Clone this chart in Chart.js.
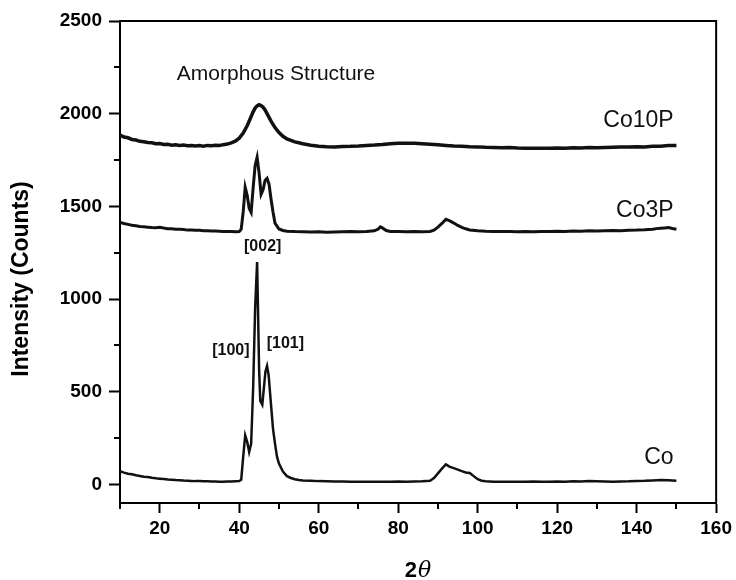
<!DOCTYPE html>
<html>
<head>
<meta charset="utf-8">
<script src="https://cdn.jsdelivr.net/npm/chart.js@4"></script>
<style>
  html, body { margin: 0; padding: 0; background: #fff; }
  #wrap { width: 736px; height: 580px; position: relative; }
</style>
</head>
<body>
<div id="wrap"><canvas id="xrdChart"></canvas></div>
<script>
// 2-theta positions and counts
const co10pX = [
    10, 11, 12, 13, 14, 15, 16, 17, 18, 19,
    20, 21, 22, 23, 24, 25, 26, 27, 28, 29,
    30, 31, 32, 33, 34, 35, 36, 37, 38, 39,
    40, 41, 42, 43, 43.5, 44, 44.5, 45, 45.5, 46,
    46.5, 47, 48, 49, 50, 51, 52, 53, 54, 55,
    56, 58, 60, 62, 64, 66, 68, 70, 72, 74,
    76, 78, 80, 82, 84, 86, 88, 90, 92, 94,
    96, 98, 100, 102, 104, 106, 108, 110, 112, 114,
    116, 118, 120, 122, 124, 126, 128, 130, 132, 134,
    136, 138, 140, 142, 144, 146, 148, 150
];
const co10pY = [
    1885, 1874, 1870, 1861, 1858, 1851, 1849, 1845, 1843, 1838,
    1839, 1834, 1835, 1830, 1832, 1828, 1831, 1827, 1829, 1826,
    1828, 1825, 1829, 1827, 1830, 1829, 1833, 1836, 1843, 1852,
    1868, 1895, 1935, 1985, 2010, 2030, 2042, 2048, 2044, 2035,
    2020, 2000, 1960, 1925, 1898, 1878, 1864, 1856, 1848, 1843,
    1838, 1830, 1825, 1822, 1821, 1823, 1824, 1826, 1829, 1831,
    1834, 1838, 1840, 1841, 1840, 1838, 1835, 1832, 1829, 1826,
    1824, 1822, 1821, 1819, 1818, 1816, 1817, 1815, 1814, 1813,
    1814, 1813, 1815, 1814, 1816, 1815, 1817, 1816, 1818, 1819,
    1820, 1821, 1822, 1821, 1824, 1825, 1828, 1828
];

const co3pX = [
    10, 11, 12, 13, 14, 15, 16, 17, 18, 19,
    20, 21, 22, 23, 24, 25, 26, 27, 28, 29,
    30, 31, 32, 33, 34, 35, 36, 37, 38, 39,
    40, 40.5, 41, 41.5, 42, 42.5, 43, 43.5, 44, 44.5,
    45, 45.5, 46, 46.5, 47, 47.5, 48, 48.5, 49, 50,
    51, 52, 54, 56, 58, 60, 62, 64, 66, 68,
    70, 72, 74, 75, 75.5, 76, 77, 78, 80, 82,
    84, 86, 88, 89, 90, 91, 92, 93, 94, 95,
    96, 97, 98, 100, 102, 104, 106, 108, 110, 112,
    114, 116, 118, 120, 122, 124, 126, 128, 130, 132,
    134, 136, 138, 140, 142, 144, 145, 146, 147, 148,
    149, 150
];
const co3pY = [
    1414, 1408, 1403, 1398, 1396, 1392, 1390, 1388, 1386, 1385,
    1387, 1383, 1380, 1379, 1377, 1376, 1375, 1372, 1373, 1371,
    1371, 1369, 1368, 1367, 1367, 1366, 1365, 1364, 1364, 1363,
    1364, 1377, 1470, 1603, 1560, 1490, 1468, 1600, 1720, 1765,
    1680, 1565, 1590, 1640, 1651, 1620, 1540, 1470, 1410, 1378,
    1370, 1366, 1364, 1363, 1362, 1363, 1361, 1362, 1363, 1364,
    1363, 1365, 1368, 1378, 1390, 1384, 1370, 1365, 1364, 1363,
    1364, 1363, 1365, 1372, 1388, 1408, 1430, 1422, 1410, 1397,
    1387, 1379, 1373, 1368, 1366, 1365, 1364, 1365, 1363, 1364,
    1363, 1365, 1364, 1366, 1365, 1367, 1366, 1368, 1367, 1369,
    1370, 1369, 1371, 1372, 1374, 1377, 1380, 1382, 1384, 1386,
    1381, 1377
];

const coX = [
    10, 11, 12, 13, 14, 15, 16, 17, 18, 19,
    20, 21, 22, 23, 24, 25, 26, 27, 28, 29,
    30, 31, 32, 33, 34, 35, 36, 37, 38, 39,
    40, 40.5, 41, 41.5, 42, 42.5, 43, 43.5, 44, 44.5,
    45, 45.3, 45.8, 46.2, 46.6, 47, 47.4, 48, 48.5, 49,
    49.5, 50, 51, 52, 53, 54, 55, 56, 58, 60,
    62, 64, 66, 68, 70, 72, 74, 76, 78, 80,
    82, 84, 86, 88, 89, 90, 91, 92, 93, 94,
    95, 96, 97, 98, 99, 100, 101, 102, 104, 106,
    108, 110, 112, 114, 116, 118, 120, 122, 124, 126,
    128, 130, 132, 134, 136, 138, 140, 142, 144, 146,
    148, 150
];
const coY = [
    72, 64, 58, 55, 50, 46, 42, 40, 36, 33,
    31, 29, 27, 26, 24, 23, 21, 20, 19, 18,
    18, 17, 17, 16, 16, 15, 15, 16, 16, 17,
    18, 25, 150, 265, 230, 175, 220, 520, 950, 1200,
    620, 450, 430, 520, 610, 640, 590, 430, 300, 220,
    150, 113, 70, 45, 35, 28, 24, 22, 20, 18,
    17, 16, 16, 15, 15, 14, 15, 14, 15, 16,
    15, 16, 17, 20, 35, 60, 85, 108, 95, 88,
    80, 72, 65, 62, 45, 28, 20, 17, 15, 14,
    15, 14, 15, 16, 15, 14, 16, 15, 17, 16,
    18, 17, 16, 15, 16, 17, 19, 20, 22, 24,
    23, 20
];

const xTicks = [10, 20, 30, 40, 50, 60, 70, 80, 90, 100, 110, 120, 130, 140, 150, 160];
const yTicks = [0, 250, 500, 750, 1000, 1250, 1500, 1750, 2000, 2250, 2500];

// text placed in data coordinates: [text, x, y, align, font]
const seriesLabels = [
    ['Co10P', 149.3, 1962, 'right', '23px Arial, "Liberation Sans", sans-serif'],
    ['Co3P', 149.3, 1478, 'right', '23px Arial, "Liberation Sans", sans-serif'],
    ['Co', 149.3, 143, 'right', '23px Arial, "Liberation Sans", sans-serif'],
    ['Amorphous Structure', 24.3, 2211, 'left', '21px Arial, "Liberation Sans", sans-serif'],
    ['[002]', 45.9, 1282, 'center', 'bold 16px Arial, "Liberation Sans", sans-serif'],
    ['[100]', 37.9, 724, 'center', 'bold 16px Arial, "Liberation Sans", sans-serif'],
    ['[101]', 51.6, 761, 'center', 'bold 16px Arial, "Liberation Sans", sans-serif']
];

const toPoints = (xs, ys) => xs.map((x, i) => ({ x: x, y: ys[i] }));
const isMajorX = v => v % 20 === 0;
const isMajorY = v => v % 500 === 0;

const frameAndText = {
    id: 'frameAndText',
    afterDraw(chart) {
        const ctx = chart.ctx;
        const a = chart.chartArea;
        const xs = chart.scales.x;
        const ys = chart.scales.y;
        ctx.save();
        ctx.strokeStyle = '#000';
        ctx.lineWidth = 2;

        // top and right edges of the box
        ctx.beginPath();
        ctx.moveTo(a.left, a.top);
        ctx.lineTo(a.right, a.top);
        ctx.lineTo(a.right, a.bottom);
        ctx.stroke();

        // short minor ticks
        ctx.beginPath();
        xTicks.filter(v => !isMajorX(v)).forEach(v => {
            const px = Math.round(xs.getPixelForValue(v));
            ctx.moveTo(px, a.bottom);
            ctx.lineTo(px, a.bottom + 6);
        });
        yTicks.filter(v => !isMajorY(v)).forEach(v => {
            const py = Math.round(ys.getPixelForValue(v));
            ctx.moveTo(a.left, py);
            ctx.lineTo(a.left - 6, py);
        });
        ctx.stroke();

        // annotations
        ctx.fillStyle = '#111';
        ctx.textBaseline = 'middle';
        seriesLabels.forEach(([txt, x, y, align, font]) => {
            ctx.font = font;
            ctx.textAlign = align;
            ctx.fillText(txt, xs.getPixelForValue(x), ys.getPixelForValue(y));
        });

        // axis titles
        ctx.fillStyle = '#000';
        ctx.save();
        ctx.translate(22, 279);
        ctx.rotate(-Math.PI / 2);
        ctx.textAlign = 'center';
        ctx.font = 'bold 23px Arial, "Liberation Sans", sans-serif';
        ctx.fillText('Intensity (Counts)', 0, 0);
        ctx.restore();

        ctx.textBaseline = 'alphabetic';
        ctx.textAlign = 'left';
        ctx.font = 'bold 22px Arial, "Liberation Sans", sans-serif';
        const w2 = ctx.measureText('2').width;
        ctx.font = 'italic 22px "DejaVu Serif", serif';
        const wt = ctx.measureText('\u03B8').width;
        const startX = (a.left + a.right) / 2 - (w2 + wt + 1) / 2;
        ctx.font = 'bold 22px Arial, "Liberation Sans", sans-serif';
        ctx.fillText('2', startX, 577);
        ctx.font = 'italic 22px "DejaVu Serif", serif';
        ctx.fillText('\u03B8', startX + w2 + 1, 577);
        ctx.restore();
    }
};

const tickFont = { family: 'Arial, "Liberation Sans", sans-serif', size: 19, weight: 'bold' };

new Chart(document.getElementById('xrdChart'), {
    type: 'scatter',
    data: {
        datasets: [
            { label: 'Co10P', data: toPoints(co10pX, co10pY), borderWidth: 3.5 },
            { label: 'Co3P', data: toPoints(co3pX, co3pY), borderWidth: 3 },
            { label: 'Co', data: toPoints(coX, coY), borderWidth: 2.5 }
        ].map(d => Object.assign(d, {
            showLine: true,
            borderColor: '#111',
            pointRadius: 0,
            tension: 0
        }))
    },
    options: {
        responsive: true,
        maintainAspectRatio: false,
        animation: false,
        layout: { padding: { top: 21, right: 17, left: 0, bottom: 0 } },
        plugins: { legend: { display: false }, tooltip: { enabled: false } },
        scales: {
            x: {
                type: 'linear',
                min: 10,
                max: 160,
                afterBuildTicks: s => { s.ticks = xTicks.map(v => ({ value: v })); },
                afterFit: s => { s.height = 77; },
                border: { color: '#000', width: 2 },
                grid: {
                    drawOnChartArea: false,
                    tickLength: 10,
                    tickWidth: 2,
                    tickColor: c => isMajorX(c.tick.value) ? '#000' : 'rgba(0,0,0,0)'
                },
                ticks: {
                    color: '#000',
                    font: tickFont,
                    padding: 4,
                    maxRotation: 0,
                    autoSkip: false,
                    callback: v => isMajorX(v) ? String(v) : ''
                }
            },
            y: {
                type: 'linear',
                min: -100,
                max: 2500,
                afterBuildTicks: s => { s.ticks = yTicks.map(v => ({ value: v })); },
                afterFit: s => { s.width = 120; },
                border: { color: '#000', width: 2 },
                grid: {
                    drawOnChartArea: false,
                    tickLength: 11,
                    tickWidth: 2,
                    tickColor: c => isMajorY(c.tick.value) ? '#000' : 'rgba(0,0,0,0)'
                },
                ticks: {
                    color: '#000',
                    font: tickFont,
                    padding: 7,
                    autoSkip: false,
                    callback: v => isMajorY(v) ? String(v) : ''
                }
            }
        }
    },
    plugins: [frameAndText]
});
</script>
</body>
</html>
